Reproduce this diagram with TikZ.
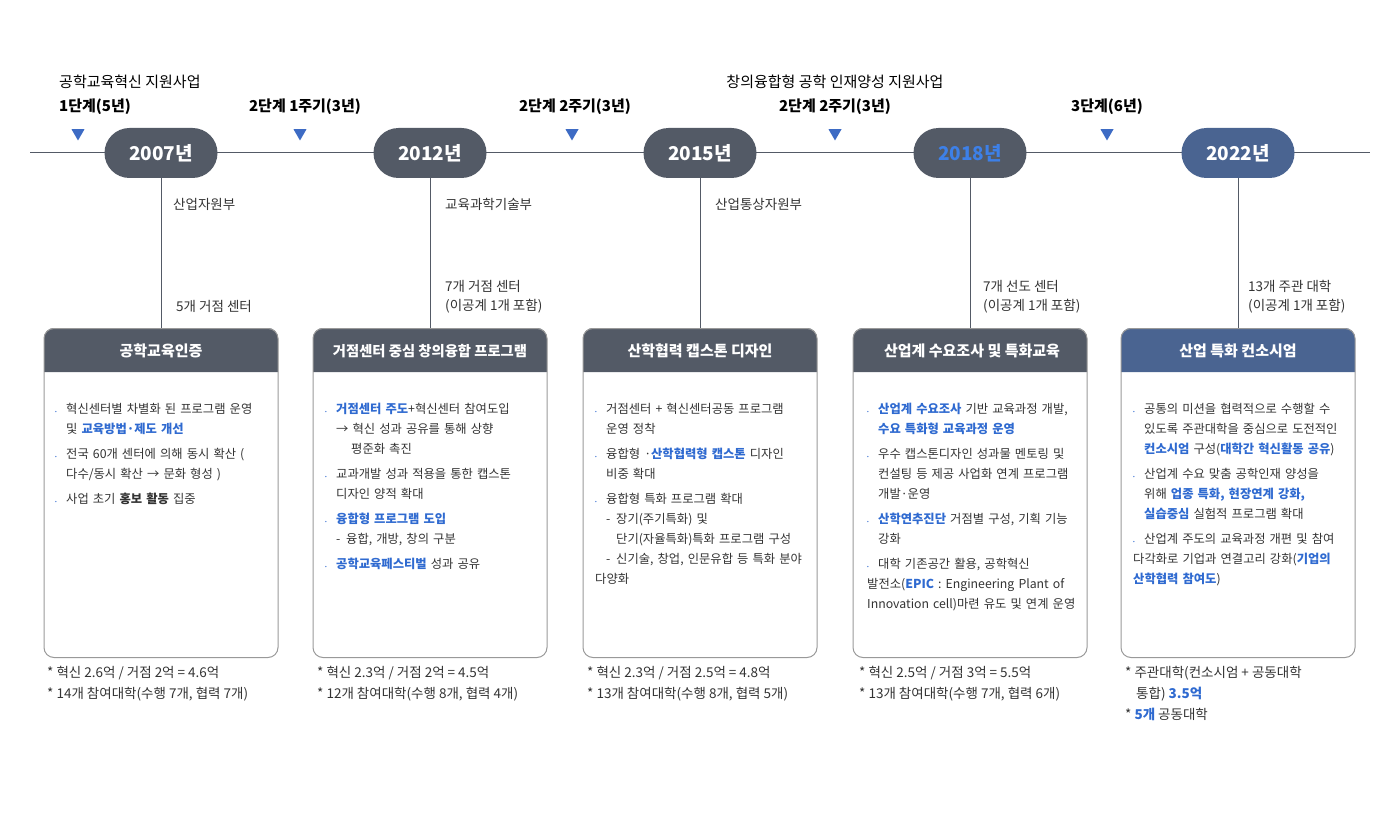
\documentclass[tikz,border=0pt]{standalone}
\usepackage{fontspec}
\setmainfont{Noto Sans CJK KR}
\usetikzlibrary{shapes.geometric,positioning}
\definecolor{pill}{HTML}{535A66}
\definecolor{navy}{HTML}{4A6491}
\definecolor{hl}{HTML}{2F6AD0}
\definecolor{yr}{HTML}{3D80E8}
\definecolor{tri}{HTML}{3D6BC4}
\definecolor{txt}{HTML}{333333}
\newcommand{\hb}[1]{\textbf{\textcolor{hl}{#1}}}
\newcommand{\bt}{\par\vspace{5pt}\hangindent=11pt\hangafter=1\noindent\makebox[11pt][l]{\textcolor{hl}{\tiny\textbullet}}}
\newcommand{\sub}{\par\hangindent=21pt\hangafter=1\noindent\hspace*{11pt}\makebox[10pt][l]{-}}
\newcommand{\cont}{\par\noindent\hspace*{11pt}}
\begin{document}
\begin{tikzpicture}[x=1pt,y=-1pt]
\tikzset{year/.style={rectangle, rounded corners=25pt, fill=pill, minimum width=113pt, minimum height=50pt, text=white, font=\fontsize{19}{19}\selectfont\bfseries},
  stepmark/.style={regular polygon, regular polygon sides=3, shape border rotate=180, fill=tri, minimum size=15pt, inner sep=0pt},
  phase/.style={font=\fontsize{15}{18}\selectfont\bfseries, text=black},
  note/.style={font=\fontsize{13.5}{19}\selectfont, text=txt, align=left, anchor=west, inner sep=0pt},
  box/.style={rectangle, rounded corners=10pt, draw=gray!80, line width=1pt, minimum width=234pt, minimum height=329pt, anchor=north},
  head/.style={text=white, font=\fontsize{15}{18}\selectfont\bfseries},
  body/.style={anchor=north west, text width=212pt, align=left, inner sep=0pt, text=txt, font=\fontsize{12.3}{20}\selectfont},
  foot/.style={anchor=north west, inner sep=0pt, align=left, text=txt, font=\fontsize{13.5}{21}\selectfont},
  conn/.style={draw=pill, line width=1pt}}
\useasboundingbox (0,0) rectangle (1400,818);
% timeline
\coordinate (tl) at (30,153);
\coordinate (tr) at (1370,153);
\draw[conn] (tl) -- (tr);
% phases
\node[font=\fontsize{15}{18}\selectfont, anchor=west, inner sep=0pt] (prog1) at (59,82) {공학교육혁신 지원사업};
\node[phase, anchor=west, inner sep=0pt] (ph1) at (59,107) {1단계(5년)};
\node[phase] (ph2) at (305,107) {2단계 1주기(3년)};
\node[phase] (ph3) at (575,107) {2단계 2주기(3년)};
\node[font=\fontsize{15}{18}\selectfont] (prog2) at (835,82) {창의융합형 공학 인재양성 지원사업};
\node[phase] (ph4) at (835,107) {2단계 2주기(3년)};
\node[phase] (ph5) at (1107,107) {3단계(6년)};
\foreach \x/\n in {78/1,300/2,572/3,835/4,1107/5}
  \node[stepmark] (m\n) at (\x,133) {};
% years, links and boxes
\foreach \x/\n/\yr/\c/\tc in {161/a/2007/pill/white,430/b/2012/pill/white,700/c/2015/pill/white,970/d/2018/pill/yr,1238/e/2022/navy/white}{
  \fill[\c, rounded corners=10pt] (\x-117,372) -- (\x-117,328) -- (\x+117,328) [sharp corners] -- (\x+117,372) -- cycle;
  \node[box] (box\n) at (\x,328) {};
  \node[year, fill=\c, text=\tc] (y\n) at (\x,153) {{\yr}년};
  \draw[conn] (y\n) -- (box\n);
}
% ministries and centres
\node[note] (mina) at (173,204) {산업자원부};
\node[note] (minb) at (445,204) {교육과학기술부};
\node[note] (minc) at (715,204) {산업통상자원부};
\node[note] (cena) at (176,306) {5개 거점 센터};
\node[note] (cenb) at (445,297) {7개 거점 센터\\(이공계 1개 포함)};
\node[note] (cend) at (983,297) {7개 선도 센터\\(이공계 1개 포함)};
\node[note] (cene) at (1248,297) {13개 주관 대학\\(이공계 1개 포함)};
% headers
\node[head] (ha) at (161,351) {공학교육인증};
\node[head, font=\fontsize{14.3}{18}\selectfont\bfseries] (hb) at (430,351) {거점센터 중심 창의융합 프로그램};
\node[head] (hc) at (700,351) {산학협력 캡스톤 디자인};
\node[head] (hd) at (972,351) {산업계 수요조사 및 특화교육};
\node[head] (he) at (1238,351) {산업 특화 컨소시엄};
% bodies
\node[body] (ba) at (55,388) {\bt 혁신센터별 차별화 된 프로그램 운영 및 \hb{교육방법·제도 개선}
 \bt 전국 60개 센터에 의해 동시 확산 ( 다수/동시 확산 → 문화 형성 )
 \bt 사업 초기 \textbf{홍보 활동} 집중};
\node[body] (bb) at (325,388) {\bt \hb{거점센터 주도}+혁신센터 참여도입
 \cont → 혁신 성과 공유를 통해 상향
 \par\noindent\hspace*{26pt}평준화 촉진
 \bt 교과개발 성과 적용을 통한 캡스톤 디자인 양적 확대
 \bt \hb{융합형 프로그램 도입}
 \sub 융합, 개방, 창의 구분
 \bt \hb{공학교육페스티벌} 성과 공유};
\node[body] (bc) at (595,388) {\bt 거점센터 + 혁신센터공동 프로그램 운영 정착
 \bt 융합형 ·\hb{산학협력형 캡스톤} 디자인 비중 확대
 \bt 융합형 특화 프로그램 확대
 \sub 장기(주기특화) 및 단기(자율특화)특화 프로그램 구성
 \sub 신기술, 창업, 인문유합 등 특화 분야 다양화};
\node[body] (bd) at (867,388) {\bt \hb{산업계 수요조사} 기반 교육과정 개발, \hb{수요 특화형 교육과정 운영}
 \bt 우수 캡스톤디자인 성과물 멘토링 및 컨설팅 등 제공 사업화 연계 프로그램 개발·운영
 \bt \hb{산학연추진단} 거점별 구성, 기획 기능 강화
 \bt 대학 기존공간 활용, 공학혁신 발전소(\hb{EPIC} : Engineering Plant of Innovation cell)마련 유도 및 연계 운영};
\node[body] (be) at (1133,388) {\bt 공통의 미션을 협력적으로 수행할 수 있도록 주관대학을 중심으로 도전적인 \hb{컨소시엄} 구성(\hb{대학간 혁신활동 공유})
 \bt 산업계 수요 맞춤 공학인재 양성을 위해 \hb{업종 특화, 현장연계 강화, 실습중심} 실험적 프로그램 확대
 \bt 산업계 주도의 교육과정 개편 및 참여 다각화로 기업과 연결고리 강화(\hb{기업의 산학협력 참여도})};
% footnotes
\node[foot] (fa) at (47,666) {* 혁신 2.6억 / 거점 2억 = 4.6억\\* 14개 참여대학(수행 7개, 협력 7개)};
\node[foot] (fb) at (317,666) {* 혁신 2.3억 / 거점 2억 = 4.5억\\* 12개 참여대학(수행 8개, 협력 4개)};
\node[foot] (fc) at (587,666) {* 혁신 2.3억 / 거점 2.5억 = 4.8억\\* 13개 참여대학(수행 8개, 협력 5개)};
\node[foot] (fd) at (859,666) {* 혁신 2.5억 / 거점 3억 = 5.5억\\* 13개 참여대학(수행 7개, 협력 6개)};
\node[foot] (fe) at (1125,666) {* 주관대학(컨소시엄 + 공동대학\\\hspace*{11pt}통합) \hb{3.5억}\\* \hb{5개} 공동대학};
\end{tikzpicture}
\end{document}
